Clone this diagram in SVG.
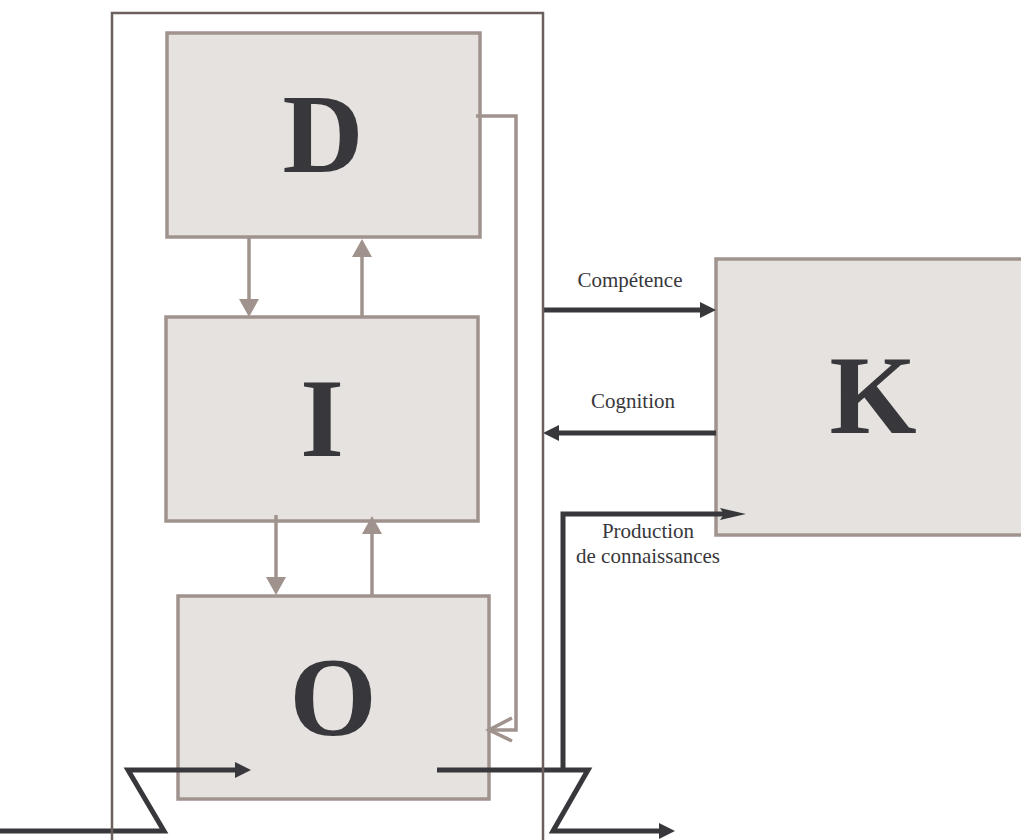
<svg xmlns="http://www.w3.org/2000/svg" width="1021" height="840" viewBox="0 0 1021 840">
<style>
.box{fill:#e6e2df;stroke:#a0938e;stroke-width:3.5}
.big{font-family:"Liberation Serif","Times New Roman",serif;font-weight:bold;font-size:112px;fill:#38373b;text-anchor:middle}
.lbl{font-family:"Liberation Serif","Times New Roman",serif;font-size:21px;fill:#38373b;text-anchor:middle}
.light{fill:none;stroke:#a0938e;stroke-width:3.5}
.dark{fill:none;stroke:#38373b;stroke-width:5}
.frame{fill:none;stroke:#6b605d;stroke-width:2.5}
</style>
<defs>
<marker id="lh" markerUnits="userSpaceOnUse" markerWidth="20" markerHeight="22" refX="0" refY="10" orient="auto" overflow="visible">
<path d="M0,0 L18,10 L0,20 Z" fill="#a0938e"/>
</marker>
<marker id="dh" markerUnits="userSpaceOnUse" markerWidth="18" markerHeight="18" refX="0" refY="8" orient="auto" overflow="visible">
<path d="M0,0 L16,8 L0,16 Z" fill="#38373b"/>
</marker>
<marker id="nh" markerUnits="userSpaceOnUse" markerWidth="26" markerHeight="14" refX="4" refY="6" orient="auto" overflow="visible">
<path d="M0,0 L26,6 L0,12 L4,6 Z" fill="#38373b"/>
</marker>
</defs>
<rect width="1021" height="840" fill="#ffffff"/>
<g id="node-D"><rect class="box" x="167" y="33" width="313" height="204"/><text class="big" x="323" y="172">D</text></g>
<g id="node-I"><rect class="box" x="166" y="317" width="312" height="204"/><text class="big" x="322" y="456">I</text></g>
<g id="node-O"><rect class="box" x="178" y="596" width="311" height="203"/><text class="big" x="333" y="735">O</text></g>
<g id="node-K"><rect class="box" x="716" y="259" width="330" height="276"/><text class="big" x="873" y="433">K</text></g>
<g id="connectors">
<path class="light" d="M249,238 V299" marker-end="url(#lh)"/>
<path class="light" d="M362,317 V257" marker-end="url(#lh)"/>
<path class="light" d="M276,515 V577" marker-end="url(#lh)"/>
<path class="light" d="M372,597 V534" marker-end="url(#lh)"/>
<path class="light" d="M476,116 H516 V730 H490"/>
<path class="light" stroke-width="4" d="M512,718 L489,730 L512,741"/>
<path class="dark" d="M543,310 H700" marker-end="url(#dh)"/>
<path class="dark" d="M716,433 H559" marker-end="url(#dh)"/>
<path class="dark" stroke-width="4.5" d="M563,770 V514 H724" marker-end="url(#nh)"/>
<path class="dark" d="M0,831 H164 L128,770 H235" marker-end="url(#dh)"/>
<path class="dark" d="M437,770 H588 L553,831 H659" marker-end="url(#dh)"/>
<text class="lbl" x="630" y="287">Compétence</text>
<text class="lbl" x="633" y="408">Cognition</text>
<text class="lbl" x="648" y="538">Production</text>
<text class="lbl" x="648" y="563">de connaissances</text>
</g>
<path id="frame" class="frame" d="M112,842 V13 H543 V842"/>
</svg>
